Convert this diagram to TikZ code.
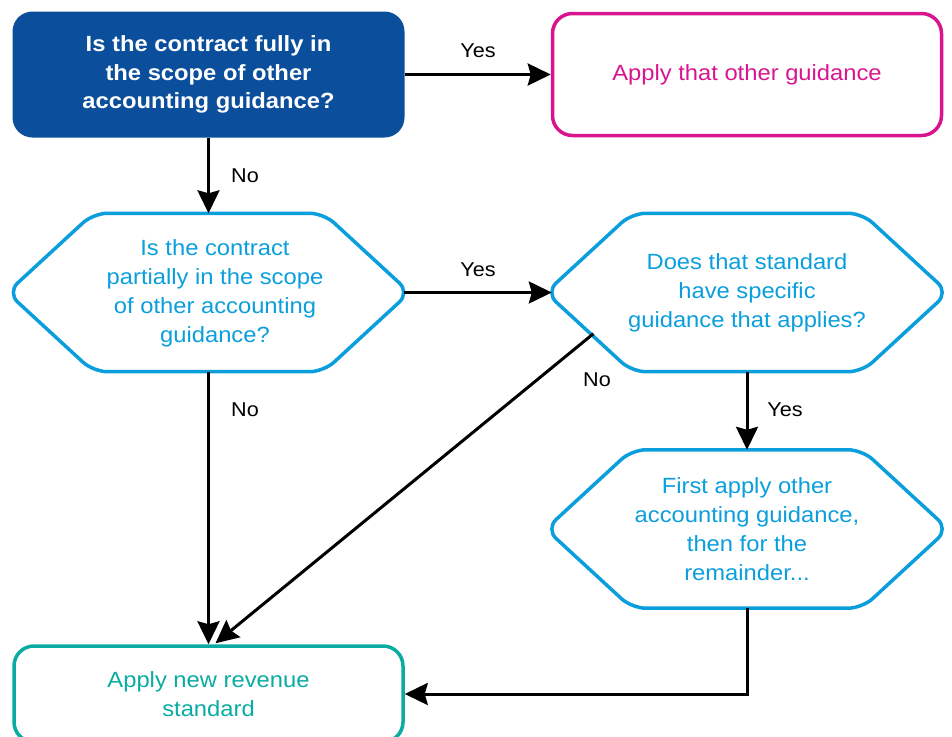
\documentclass[tikz,border=0pt]{standalone}
\usepackage{fontspec}
\setmainfont{Liberation Sans}[FakeStretch=1.08]
\usetikzlibrary{arrows.meta,calc}
\definecolor{kdark}{HTML}{0B4F9C}
\definecolor{klight}{HTML}{0A9EDC}
\definecolor{kmag}{HTML}{D8158F}
\definecolor{kteal}{HTML}{0AABA3}
\newcommand\hexdraw[1]{\draw[hexline] ($(#1.west)+(-6,0)$) -- ($(#1.north west)+(80,0)$) -- ($(#1.north east)+(-80,0)$) -- ($(#1.east)+(6,0)$) -- ($(#1.south east)+(-80,0)$) -- ($(#1.south west)+(80,0)$) -- cycle;}
\begin{document}
\begin{tikzpicture}[x=1pt,y=-1pt,
  txt/.style={font=\fontsize{22}{29}\selectfont, align=center, inner sep=0pt},
  qbox/.style={txt, fill=kdark, text=white, font=\fontsize{22}{28.5}\selectfont\bfseries, rounded corners=20pt, minimum width=392pt, minimum height=126pt},
  abox/.style={txt, draw=kmag, text=kmag, line width=3.5pt, rounded corners=20pt, minimum width=389pt, minimum height=122pt},
  bbox/.style={txt, draw=kteal, text=kteal, line width=3.5pt, rounded corners=20pt, minimum width=389pt, minimum height=96pt},
  hexbox/.style={txt, text=klight, minimum width=390pt, minimum height=158pt},
  hexline/.style={draw=klight, line width=3.5pt, rounded corners=14pt},
  conn/.style={line width=3pt, -{Stealth[length=23pt,width=22pt,inset=3pt]}},
  lbl/.style={font=\fontsize{20}{24}\selectfont, inner sep=0pt}
]
\path[use as bounding box] (0,0) rectangle (952,736);
\clip (0,0) rectangle (952,736);

\node[qbox] (q1) at (208.5,74.5) {Is the contract fully in\\the scope of other\\accounting guidance?};
\node[abox] (a1) at (747,74.5) {Apply that other guidance};

\node[hexbox] (h1) at (208.5,292.5) {};
\node[txt, text=klight] (h1t) at (215,293) {Is the contract\\partially in the scope\\of other accounting\\guidance?};
\hexdraw{h1}

\node[hexbox] (h2) at (747,292.5) {Does that standard\\have specific\\guidance that applies?};
\hexdraw{h2}

\node[hexbox] (h3) at (747,529) {First apply other\\accounting guidance,\\then for the\\remainder...};
\hexdraw{h3}

\node[bbox] (b) at (208.5,694) {Apply new revenue\\standard};

\coordinate (h2bl) at ($(h2.south west)+(80,0)$);
\coordinate (dstart) at ($(h2.west)!0.52!(h2bl)$);
\coordinate (dend) at ($(b.north)+(7,-1)$);

\draw[conn] (q1.east) -- (q1.east -| a1.west);
\draw[conn] (q1.south) -- (h1.north);
\draw[conn] (h1.east) -- (h2.west);
\draw[conn] (h1.south) -- (b.north);
\draw[conn] (h2.south) -- (h3.north);
\draw[conn] (dstart) -- (dend);
\draw[conn] (h3.south) |- (b.east);

\node[lbl] (l1) at (478,51) {Yes};
\node[lbl] (l2) at (245,176) {No};
\node[lbl] (l3) at (478,270) {Yes};
\node[lbl] (l4) at (245,410) {No};
\node[lbl] (l5) at (597,380) {No};
\node[lbl] (l6) at (785,410) {Yes};
\end{tikzpicture}
\end{document}
